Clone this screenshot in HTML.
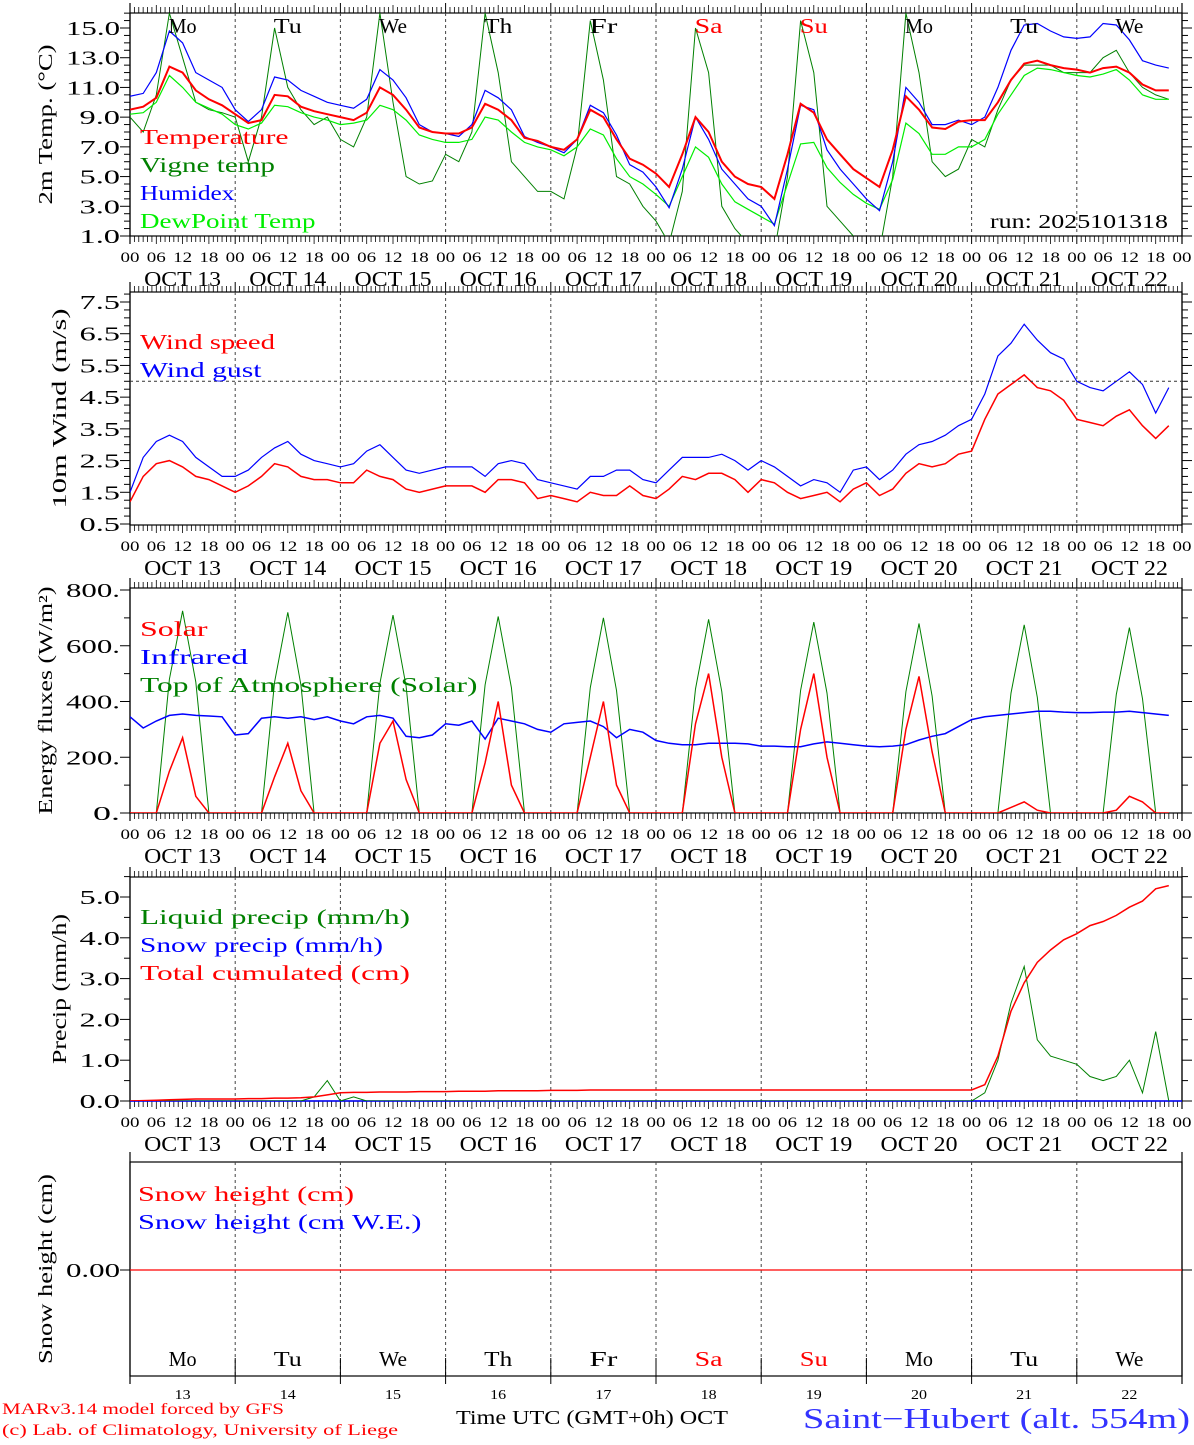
<!DOCTYPE html>
<html><head><meta charset="utf-8"><style>
body{margin:0;background:#fff}
svg text{font-family:"Liberation Serif",serif}
</style></head><body>
<svg id="c" width="1194" height="1440" xmlns="http://www.w3.org/2000/svg"></svg>
<script>
// ---- data (3-hourly, from Oct 13 00 UTC) ----
const dayNames=["Mo","Tu","We","Th","Fr","Sa","Su","Mo","Tu","We"];
const dayNums=["13","14","15","16","17","18","19","20","21","22"];
const temperature=[9.5,9.7,10.3,12.4,12.0,10.8,10.2,9.8, 9.2,8.6,8.8,10.5,10.4,9.7,9.4,9.2, 9.0,8.8,9.3,11.0,10.5,9.5,8.3,8.0, 7.9,7.9,8.3,9.9,9.5,8.8,7.6,7.4, 7.0,6.8,7.5,9.5,9.0,7.5,6.2,5.8, 5.2,4.3,6.5,9.0,8.0,6.0,5.0,4.5, 4.3,3.5,6.5,9.9,9.3,7.5,6.5,5.5, 4.9,4.3,6.8,10.4,9.5,8.3,8.2,8.7, 8.8,8.8,10.0,11.5,12.6,12.8,12.5,12.3, 12.2,12.0,12.3,12.4,12.0,11.2,10.8,10.8];
const vigne=[9.0,8.0,10.5,16.0,13.0,10.0,9.5,9.3, 9.0,6.0,9.0,15.0,11.0,9.5,8.5,9.0, 7.5,7.0,9.0,16.0,10.0,5.0,4.5,4.7, 6.5,6.0,8.0,16.0,12.0,6.0,5.0,4.0, 4.0,3.5,7.0,15.5,11.5,5.0,4.5,3.0, 2.0,0.5,4.0,15.0,12.0,3.0,1.5,0.5, 0.5,0.0,5.0,15.5,12.0,3.0,2.0,1.0, 0.0,0.0,5.0,16.0,12.0,6.0,5.0,5.5, 7.5,7.0,9.5,11.5,12.5,12.5,12.5,12.0, 12.0,12.0,13.0,13.5,12.0,11.0,10.5,10.2];
const humidex=[10.4,10.6,12.0,14.8,14.0,12.0,11.5,11.0, 9.5,8.7,9.5,11.7,11.5,10.8,10.4,10.0, 9.8,9.6,10.2,12.2,11.5,10.3,8.5,8.0, 7.9,7.7,8.5,10.8,10.3,9.5,7.7,7.3, 7.0,6.6,7.5,9.8,9.3,7.8,5.8,5.3, 4.3,2.9,5.5,9.0,7.5,5.5,4.5,3.5, 3.0,1.7,5.5,9.8,9.5,6.8,5.5,4.5, 3.5,2.7,6.0,11.0,10.0,8.5,8.5,8.8, 8.5,9.0,11.0,13.5,15.2,15.3,14.8,14.4, 14.3,14.4,15.3,15.2,14.2,12.8,12.5,12.3];
const dewpoint=[9.2,9.3,10.0,11.8,11.0,10.0,9.6,9.2, 8.5,8.2,8.6,9.8,9.7,9.3,9.0,8.8, 8.5,8.6,8.8,9.8,9.5,8.8,7.8,7.5, 7.3,7.3,7.5,9.0,8.8,8.0,7.3,7.0, 6.8,6.4,7.0,8.2,7.8,6.2,5.0,4.5, 3.8,3.0,5.0,7.0,6.3,4.5,3.3,2.8, 2.3,1.8,4.5,7.2,7.3,5.6,4.6,3.8, 3.2,2.8,4.8,8.6,7.9,6.5,6.5,7.0, 7.0,7.5,9.2,10.5,11.8,12.3,12.2,12.0, 11.8,11.7,11.9,12.2,11.5,10.5,10.2,10.2];
const windSpeed=[1.2,2.0,2.4,2.5,2.3,2.0,1.9,1.7, 1.5,1.7,2.0,2.4,2.3,2.0,1.9,1.9, 1.8,1.8,2.2,2.0,1.9,1.6,1.5,1.6, 1.7,1.7,1.7,1.5,1.9,1.9,1.8,1.3, 1.4,1.3,1.2,1.5,1.4,1.4,1.7,1.4, 1.3,1.6,2.0,1.9,2.1,2.1,1.9,1.5, 1.9,1.8,1.5,1.3,1.4,1.5,1.2,1.6, 1.8,1.4,1.6,2.1,2.4,2.3,2.4,2.7, 2.8,3.8,4.6,4.9,5.2,4.8,4.7,4.4, 3.8,3.7,3.6,3.9,4.1,3.6,3.2,3.6];
const windGust=[1.5,2.6,3.1,3.3,3.1,2.6,2.3,2.0, 2.0,2.2,2.6,2.9,3.1,2.7,2.5,2.4, 2.3,2.4,2.8,3.0,2.6,2.2,2.1,2.2, 2.3,2.3,2.3,2.0,2.4,2.5,2.4,1.9, 1.8,1.7,1.6,2.0,2.0,2.2,2.2,1.9, 1.8,2.2,2.6,2.6,2.6,2.7,2.5,2.2, 2.5,2.3,2.0,1.7,1.9,1.8,1.5,2.2, 2.3,1.9,2.2,2.7,3.0,3.1,3.3,3.6, 3.8,4.6,5.8,6.2,6.8,6.3,5.9,5.7, 5.0,4.8,4.7,5.0,5.3,4.9,4.0,4.8];
const solar=[0,0,0,150,270,60,0,0, 0,0,0,130,250,80,0,0, 0,0,0,250,330,120,0,0, 0,0,0,180,400,100,0,0, 0,0,0,200,400,100,0,0, 0,0,0,320,500,200,0,0, 0,0,0,300,500,200,0,0, 0,0,0,300,490,220,0,0, 0,0,0,20,40,10,0,0, 0,0,0,10,60,40,0,0];
const toa=[0,0,0,480,725,470,0,0, 0,0,0,470,720,460,0,0, 0,0,0,465,710,455,0,0, 0,0,0,460,705,450,0,0, 0,0,0,450,700,440,0,0, 0,0,0,445,695,435,0,0, 0,0,0,440,685,430,0,0, 0,0,0,435,680,420,0,0, 0,0,0,430,675,415,0,0, 0,0,0,425,665,410,0,0];
const infrared=[345,305,330,350,355,350,348,345, 280,285,340,345,340,345,335,345, 330,320,345,350,340,275,270,280, 320,315,330,265,340,330,320,300, 290,320,325,330,310,270,300,290, 260,250,245,245,250,250,250,248, 240,240,238,238,248,255,250,245, 240,238,240,245,262,275,285,310, 335,345,350,355,360,365,365,362, 360,360,362,362,365,360,355,350];
const liquid=[0,0,0,0,0,0,0,0, 0,0,0,0,0,0,0.1,0.5, 0,0.1,0,0,0,0,0,0, 0,0,0,0,0,0,0,0, 0,0,0,0,0,0,0,0, 0,0,0,0,0,0,0,0, 0,0,0,0,0,0,0,0, 0,0,0,0,0,0,0,0, 0,0.2,1.0,2.4,3.3,1.5,1.1,1.0, 0.9,0.6,0.5,0.6,1.0,0.2,1.7,0];
const cumul=[0,0.01,0.02,0.03,0.04,0.05,0.05,0.05, 0.05,0.06,0.06,0.07,0.07,0.08,0.1,0.15, 0.2,0.21,0.21,0.22,0.22,0.22,0.23,0.23, 0.23,0.24,0.24,0.24,0.25,0.25,0.25,0.25, 0.26,0.26,0.26,0.27,0.27,0.27,0.27,0.27, 0.27,0.27,0.27,0.27,0.27,0.27,0.27,0.27, 0.27,0.27,0.27,0.27,0.27,0.27,0.27,0.27, 0.27,0.27,0.27,0.27,0.27,0.27,0.27,0.27, 0.27,0.4,1.1,2.2,2.9,3.4,3.7,3.95, 4.1,4.3,4.4,4.55,4.75,4.9,5.2,5.28];
const snowH=[0,0];
// ---- drawing ----
const svg=document.getElementById('c');
const NS='http://www.w3.org/2000/svg';
const X0=130,X1=1182;
const xs=h=>X0+h*(X1-X0)/240;
function el(tag,attrs,parent){const e=document.createElementNS(NS,tag);for(const k in attrs)e.setAttribute(k,attrs[k]);(parent||svg).appendChild(e);return e;}
function txt(s,x,y,size,fill,anchor,name,len,extra){const a=Object.assign({x:x,y:y,'font-size':size,fill:fill||'#000','text-anchor':anchor||'middle'},extra||{});
 if(len){a.textLength=len;a.lengthAdjust='spacingAndGlyphs';}
 const t=el('text',a);t.textContent=s;
 
 
 return t;}
const panels=[
 {top:13,bot:236,v0:1.0,y0:236,v1:15.0,y1:28,ticks:[1,3,5,7,9,11,13,15],fmt:v=>v.toFixed(1),minor:0.5,title:'2m Temp. (\u00B0C)',tx:52,tl:160},
 {top:292,bot:525,v0:0.5,y0:524,v1:7.5,y1:302,ticks:[0.5,1.5,2.5,3.5,4.5,5.5,6.5,7.5],fmt:v=>v.toFixed(1),minor:0.25,title:'10m Wind (m/s)',tx:66,tl:200},
 {top:588,bot:813,v0:0,y0:813,v1:800,y1:590,ticks:[0,200,400,600,800],fmt:v=>v+'.',minor:100,title:'Energy fluxes (W/m\u00B2)',tx:52,tl:228},
 {top:877,bot:1101,v0:0,y0:1101,v1:5,y1:897,ticks:[0,1,2,3,4,5],fmt:v=>v.toFixed(1),minor:0.5,title:'Precip (mm/h)',tx:66,tl:150},
 {top:1162,bot:1376,v0:0,y0:1270,v1:1,y1:1170,ticks:[0],fmt:v=>v.toFixed(2),minor:null,title:'Snow height (cm)',tx:52,tl:190}
];
panels.forEach((p,pi)=>{
 p.y=v=>p.y0+(v-p.v0)*(p.y1-p.y0)/(p.v1-p.v0);
 const g=el('g',{});
 
 
 el('rect',{x:X0,y:p.top,width:X1-X0,height:p.bot-p.top,fill:'none',stroke:'#000','stroke-width':1.2},g);
 el('line',{x1:X0,y1:p.top-10,x2:X0,y2:p.bot+8,stroke:'#000','stroke-width':1.2},g);
 el('line',{x1:X1,y1:p.top-10,x2:X1,y2:p.bot+8,stroke:'#000','stroke-width':1.2},g);
 for(let d=1;d<10;d++){const x=xs(d*24);el('line',{x1:x,y1:p.top,x2:x,y2:p.bot,stroke:'#444','stroke-width':1,'stroke-dasharray':'3,3'},g);
  if(pi===4){el('line',{x1:x,y1:p.bot-18,x2:x,y2:p.bot+8,stroke:'#000','stroke-width':1},g);}
  else{el('line',{x1:x,y1:p.top-10,x2:x,y2:p.top,stroke:'#000'},g);el('line',{x1:x,y1:p.bot,x2:x,y2:p.bot+8,stroke:'#000'},g);}}
 if(pi<4){for(let h=1;h<240;h++){if(h%24===0)continue;const x=xs(h);const l=h%6===0?8:6;
  el('line',{x1:x,y1:p.top,x2:x,y2:p.top-l,stroke:'#000','stroke-width':0.8},g);
  el('line',{x1:x,y1:p.bot,x2:x,y2:p.bot+l,stroke:'#000','stroke-width':0.8},g);}}
 if(p.minor){for(let v=p.v0;p.y(v)>=p.top-0.5;v+=p.minor){const y=p.y(v);const maj=p.ticks.some(t=>Math.abs(t-v)<1e-6);
  el('line',{x1:X0,y1:y,x2:X0-(maj?10:6),y2:y,stroke:'#000'},g);el('line',{x1:X1,y1:y,x2:X1+(maj?10:6),y2:y,stroke:'#000'},g);}}
 else{const y=p.y(0);el('line',{x1:X0,y1:y,x2:X0-10,y2:y,stroke:'#000'},g);el('line',{x1:X1,y1:y,x2:X1+10,y2:y,stroke:'#000'},g);}
 p.ticks.forEach(v=>{const s=p.fmt(v);txt(s,120,p.y(v)+7,20,'#000','end','y-tick-label',s.length*13.5);});
 const cy=(p.top+p.bot)/2;
 txt(p.title,p.tx,cy,20,'#000','middle','y-axis-title',p.tl,{transform:`rotate(-90 ${p.tx} ${cy})`});
 if(pi<4){for(let h=0;h<=240;h+=6){txt(String(h%24).padStart(2,'0'),xs(h),p.bot+26,15,'#000','middle','hour-tick-label',19);}
  for(let d=0;d<10;d++)txt('OCT '+dayNums[d],xs(d*24+12),p.bot+50,21,'#000','middle','date-label',77);}
});
function line(p,arr,color,w,name,step){const pts=arr.map((v,i)=>xs(i*step).toFixed(1)+','+p.y(v).toFixed(1)).join(' ');
 const e=el('polyline',{points:pts,fill:'none',stroke:color,'stroke-width':w,'clip-path':'url(#cp'+panels.indexOf(p)+')'});
 
 }
const defs=el('defs',{});
panels.forEach((p,i)=>{const c=el('clipPath',{id:'cp'+i},defs);el('rect',{x:X0,y:p.top,width:X1-X0,height:p.bot-p.top},c);});
const [P1,P2,P3,P4,P5]=panels;
line(P1,vigne,'#008000',1,'vigne-temp-line',3);
line(P1,dewpoint,'#00ee00',1.2,'dewpoint-line',3);
line(P1,humidex,'#0000ff',1.2,'humidex-line',3);
line(P1,temperature,'#ff0000',2,'temperature-line',3);
line(P2,windGust,'#0000ff',1.2,'wind-gust-line',3);
line(P2,windSpeed,'#ff0000',1.5,'wind-speed-line',3);
el('line',{x1:X0,y1:P2.y(5),x2:X1,y2:P2.y(5),stroke:'#333','stroke-dasharray':'3,3'});
line(P3,toa,'#008000',1,'toa-solar-line',3);
line(P3,infrared,'#0000ff',1.5,'infrared-line',3);
line(P3,solar,'#ff0000',1.5,'solar-line',3);
el('line',{x1:X0,y1:P4.y(0),x2:X1,y2:P4.y(0),stroke:'#0000ff','stroke-width':1.5});
line(P4,liquid,'#008000',1,'liquid-precip-line',3);
line(P4,cumul,'#ff0000',1.5,'cumulated-precip-line',3);
line(P5,snowH,'#ff0000',1.2,'snow-height-line',240);
// day names
dayNames.forEach((n,d)=>{const c=(d===5||d===6)?'#ff0000':'#000';
 txt(n,xs(d*24+12),33,21,c,'middle','day-name-top',28);
 txt(n,xs(d*24+12),1366,21,c,'middle','day-name-bottom',28);
 txt(dayNums[d],xs(d*24+12),1399,14,'#000','middle','day-number',16);});
// legends
const L=(s,x,y,c,n)=>txt(s,x,y,21,c,'start',n,s.length*13.5);
L('Temperature',140,144,'#ff0000','legend-temperature');L('Vigne temp',140,172,'#008000','legend-vigne');
L('Humidex',140,200,'#0000ff','legend-humidex');L('DewPoint Temp',140,228,'#00ee00','legend-dewpoint');
txt('run: 2025101318',1168,228,20,'#000','end','run-label',178);
L('Wind speed',140,349,'#ff0000','legend-wind-speed');L('Wind gust',140,377,'#0000ff','legend-wind-gust');
L('Solar',140,636,'#ff0000','legend-solar');L('Infrared',140,664,'#0000ff','legend-infrared');L('Top of Atmosphere (Solar)',140,692,'#008000','legend-toa');
L('Liquid precip (mm/h)',140,924,'#008000','legend-liquid');L('Snow precip (mm/h)',140,952,'#0000ff','legend-snow-precip');L('Total cumulated (cm)',140,980,'#ff0000','legend-cumulated');
L('Snow height (cm)',138,1201,'#ff0000','legend-snow-height');L('Snow height (cm W.E.)',138,1229,'#0000ff','legend-snow-we');
txt('Time UTC (GMT+0h) OCT',592,1424,20,'#000','middle','x-axis-title',272);
txt('MARv3.14 model forced by GFS',2,1414,16,'#ff0000','start','credit-model',282);
txt('(c) Lab. of Climatology, University of Liege',2,1435,16,'#ff0000','start','credit-lab',396);
txt('Saint\u2212Hubert (alt. 554m)',1190,1428,28,'#3333ff','end','station-title',387);
</script>
</body></html>
